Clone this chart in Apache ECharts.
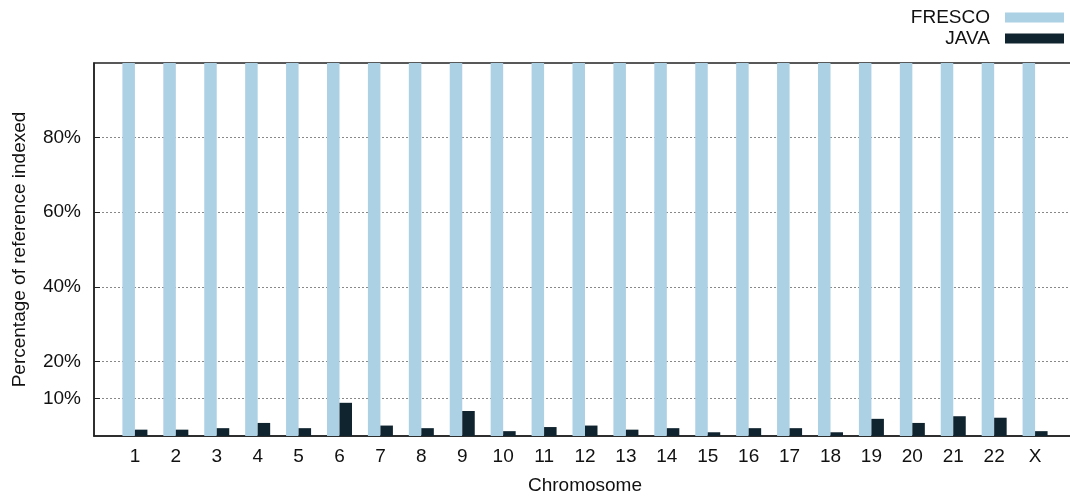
<!DOCTYPE html>
<html>
<head>
<meta charset="utf-8">
<script src="https://cdn.jsdelivr.net/npm/echarts@6/dist/echarts.min.js"></script>
<style>
html,body{margin:0;padding:0;background:#fff;}
#chart{width:1070px;height:498px;}
</style>
</head>
<body>
<div id="chart"></div>
<script>
var chromosomes = ['1','2','3','4','5','6','7','8','9','10','11','12','13','14','15','16','17','18','19','20','21','22','X'];
var frescoValues = [100,100,100,100,100,100,100,100,100,100,100,100,100,100,100,100,100,100,100,100,100,100,100];
var javaValues = [1.7,1.7,2.1,3.5,2.1,8.9,2.8,2.1,6.7,1.3,2.4,2.8,1.7,2.1,1.0,2.1,2.1,1.0,4.6,3.5,5.3,4.9,1.3];
var yTickValues = [10,20,40,60,80];

var chart = echarts.init(document.getElementById('chart'), null, {renderer:'canvas'});
var font = 'Liberation Sans, Arial, Helvetica, sans-serif';
function pairs(vals){ return vals.map(function(v,i){ return [i+1, v]; }); }

chart.setOption({
  animation:false,
  textStyle:{fontFamily:font},
  legend:{
    orient:'vertical', right:1, top:2, align:'right',
    itemWidth:59, itemHeight:10, itemGap:0,
    textStyle:{fontSize:19, color:'#111', fontFamily:font, padding:[0,10,0,0], lineHeight:21},
    data:[{name:'FRESCO', icon:'rect'},{name:'JAVA', icon:'rect'}]
  },
  grid:{left:94, top:63, width:982, height:373, show:true, borderColor:'#222', borderWidth:1.5,
        containLabel:false, outerBoundsMode:'none'},
  xAxis:{
    type:'value', min:0, max:24, interval:1,
    name:'Chromosome', nameLocation:'middle', nameGap:40,
    nameTextStyle:{fontSize:19, color:'#111', fontFamily:font},
    axisLine:{show:true, onZero:false, lineStyle:{color:'#222', width:1.5}},
    axisTick:{show:false},
    splitLine:{show:false},
    axisLabel:{fontSize:19, color:'#111', margin:11, fontFamily:font,
      formatter:function(v){ return chromosomes[v-1] || ''; }}
  },
  yAxis:{
    type:'value', min:0, max:100,
    name:'Percentage of reference indexed', nameLocation:'middle', nameGap:65,
    nameTextStyle:{fontSize:19, color:'#111', fontFamily:font},
    axisLine:{show:true, lineStyle:{color:'#222', width:1.5}},
    axisTick:{show:true, inside:true, length:6, customValues:yTickValues, lineStyle:{color:'#222'}},
    axisLabel:{fontSize:19, color:'#111', margin:13, fontFamily:font, customValues:yTickValues,
      formatter:function(v){ return v + '%'; }},
    splitLine:{show:true, lineStyle:{color:'#888', type:[2,2], width:1}}
  },
  series:[
    {name:'FRESCO', type:'bar', data:pairs(frescoValues), barWidth:12.5, barGap:'0%',
      itemStyle:{color:'#acd0e4'}},
    {name:'JAVA', type:'bar', data:pairs(javaValues), barWidth:12.5, barGap:'0%',
      itemStyle:{color:'#10242f'}}
  ]
});
</script>
</body>
</html>
